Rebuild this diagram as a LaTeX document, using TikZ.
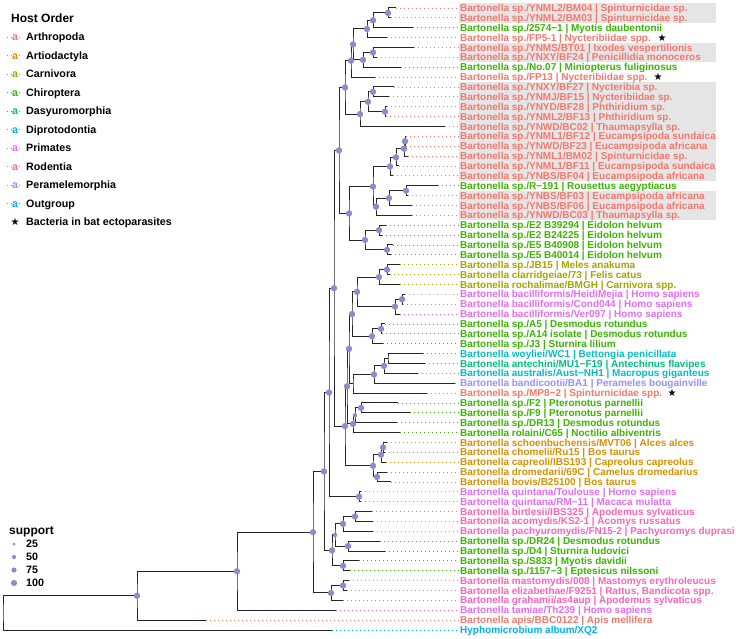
\documentclass[tikz,border=0pt]{standalone}
\usepackage{fontspec}
\setmainfont{Liberation Sans}
\newfontfamily\symf{DejaVu Sans}
\usetikzlibrary{calc}
\pgfdeclarelayer{bg}\pgfdeclarelayer{fg}\pgfsetlayers{bg,main,fg}
\definecolor{arth}{HTML}{F8766D}
\definecolor{arti}{HTML}{D89000}
\definecolor{carn}{HTML}{A3A500}
\definecolor{chir}{HTML}{39B600}
\definecolor{dasy}{HTML}{00BF7D}
\definecolor{dipr}{HTML}{00BFC4}
\definecolor{outg}{HTML}{00B0F6}
\definecolor{pera}{HTML}{9590FF}
\definecolor{prim}{HTML}{E76BF3}
\definecolor{rode}{HTML}{FF62BC}
\definecolor{supc}{RGB}{140,140,205}
\definecolor{hl}{HTML}{E5E5E5}
\tikzset{
  br/.style={line width=1pt, draw=black!85},
  lead/.style={line width=0.8pt, dash pattern=on 0.8pt off 3.2pt},
  lab/.style={anchor=west, inner sep=1pt, font=\fontsize{10}{10}\selectfont\bfseries, text height=7.2pt, text depth=0pt},
  leg/.style={anchor=west, inner sep=0pt, font=\fontsize{10.7}{11}\selectfont\bfseries, text height=7.7pt, text depth=0pt},
  legtitle/.style={anchor=west, inner sep=0pt, font=\fontsize{12}{12}\selectfont\bfseries, text height=8.6pt, text depth=0pt},
  starn/.style={inner sep=0pt, font=\symf\fontsize{10}{10}\selectfont},
}
\newcommand\tip[5]{%
  \coordinate (#1) at (#3,{8+(#2-1)*9.873});
  \node[lab,text=#4] (#1l) at (459,{8+(#2-1)*9.873}) {#5};
  \draw[lead,#4] (#1) -- (#1l.west);
}
\newcommand\inode[5]{%
  \path let \p1=(#3), \p2=(#4) in coordinate (#1) at (#2pt,{(\y1+\y2)/2});
  \draw[br] (#3) -| (#1) |- (#4);
  \ifdim#5pt>0pt \begin{pgfonlayer}{fg}\fill[supc] (#1) circle (#5pt);\end{pgfonlayer}\fi
}
\newcommand\hlbox[2]{%
  \begin{pgfonlayer}{bg}\fill[hl] (459,{8+(#1-1)*9.873-4.93}) rectangle (716,{8+(#2-1)*9.873+4.93});\end{pgfonlayer}
}
\begin{document}
\begin{tikzpicture}[x=1pt,y=-1pt]
\useasboundingbox (0,0) rectangle (736,639);
\begin{pgfonlayer}{bg}\fill[white] (0,0) rectangle (736,639);\end{pgfonlayer}
\hlbox{1}{2}\hlbox{5}{6}\hlbox{9}{18}\hlbox{20}{22}
% tips
\tip{t1}{1}{396}{arth}{Bartonella sp./YNML2/BM04 | Spinturnicidae sp.}
\tip{t2}{2}{391}{arth}{Bartonella sp./YNML2/BM03 | Spinturnicidae sp.}
\tip{t3}{3}{413}{chir}{Bartonella sp./2574−1 | Myotis daubentonii}
\tip{t4}{4}{387}{arth}{Bartonella sp./FP5-1 | Nycteribiidae spp.}
\tip{t5}{5}{414}{arth}{Bartonella sp./YNMS/BT01 | Ixodes vespertilionis}
\tip{t6}{6}{377}{arth}{Bartonella sp./YNXY/BF24 | Penicillidia monoceros}
\tip{t7}{7}{401}{chir}{Bartonella sp./No.07 | Miniopterus fuliginosus}
\tip{t8}{8}{375}{arth}{Bartonella sp./FP13 | Nycteribiidae spp.}
\tip{t9}{9}{394}{arth}{Bartonella sp./YNXY/BF27 | Nycteribia sp.}
\tip{t10}{10}{389}{arth}{Bartonella sp./YNMJ/BF15 | Nycteribiidae sp.}
\tip{t11}{11}{387}{arth}{Bartonella sp./YNYD/BF28 | Phthiridium sp.}
\tip{t12}{12}{386}{arth}{Bartonella sp./YNML2/BF13 | Phthiridium sp.}
\tip{t13}{13}{445}{arth}{Bartonella sp./YNWD/BC02 | Thaumapsylla sp.}
\tip{t14}{14}{406}{arth}{Bartonella sp./YNML1/BF12 | Eucampsipoda sundaica}
\tip{t15}{15}{406}{arth}{Bartonella sp./YNWD/BF23 | Eucampsipoda africana}
\tip{t16}{16}{408}{arth}{Bartonella sp./YNML1/BM02 | Spinturnicidae sp.}
\tip{t17}{17}{399}{arth}{Bartonella sp./YNML1/BF11 | Eucampsipoda sundaica}
\tip{t18}{18}{393}{arth}{Bartonella sp./YNBS/BF04 | Eucampsipoda africana}
\tip{t19}{19}{438}{chir}{Bartonella sp./R−191 | Rousettus aegyptiacus}
\tip{t20}{20}{408}{arth}{Bartonella sp./YNBS/BF03 | Eucampsipoda africana}
\tip{t21}{21}{412}{arth}{Bartonella sp./YNBS/BF06 | Eucampsipoda africana}
\tip{t22}{22}{412}{arth}{Bartonella sp./YNWD/BC03 | Thaumapsylla sp.}
\tip{t23}{23}{386}{chir}{Bartonella sp./E2 B39294 | Eidolon helvum}
\tip{t24}{24}{382}{chir}{Bartonella sp./E2 B24225 | Eidolon helvum}
\tip{t25}{25}{393}{chir}{Bartonella sp./E5 B40908 | Eidolon helvum}
\tip{t26}{26}{391}{chir}{Bartonella sp./E5 B40014 | Eidolon helvum}
\tip{t27}{27}{400}{carn}{Bartonella sp./JB15 | Meles anakuma}
\tip{t28}{28}{390}{carn}{Bartonella clarridgeiae/73 | Felis catus}
\tip{t29}{29}{400}{carn}{Bartonella rochalimae/BMGH | Carnivora spp.}
\tip{t30}{30}{405}{prim}{Bartonella bacilliformis/HeidiMejia | Homo sapiens}
\tip{t31}{31}{403}{prim}{Bartonella bacilliformis/Cond044 | Homo sapiens}
\tip{t32}{32}{400}{prim}{Bartonella bacilliformis/Ver097 | Homo sapiens}
\tip{t33}{33}{385}{chir}{Bartonella sp./A5 | Desmodus rotundus}
\tip{t34}{34}{382}{chir}{Bartonella sp./A14 isolate | Desmodus rotundus}
\tip{t35}{35}{383}{chir}{Bartonella sp./J3 | Sturnira lilium}
\tip{t36}{36}{423}{dipr}{Bartonella woyliei/WC1 | Bettongia penicillata}
\tip{t37}{37}{425}{dasy}{Bartonella antechini/MU1−F19 | Antechinus flavipes}
\tip{t38}{38}{418}{dipr}{Bartonella australis/Aust−NH1 | Macropus giganteus}
\tip{t39}{39}{455}{pera}{Bartonella bandicootii/BA1 | Perameles bougainville}
\tip{t40}{40}{427}{arth}{Bartonella sp./MP8−2 | Spinturnicidae spp.}
\tip{t41}{41}{398}{chir}{Bartonella sp./F2 | Pteronotus parnellii}
\tip{t42}{42}{410}{chir}{Bartonella sp./F9 | Pteronotus parnellii}
\tip{t43}{43}{397}{chir}{Bartonella sp./DR13 | Desmodus rotundus}
\tip{t44}{44}{400}{chir}{Bartonella rolaini/C65 | Noctilio albiventris}
\tip{t45}{45}{387}{arti}{Bartonella schoenbuchensis/MVT06 | Alces alces}
\tip{t46}{46}{385}{arti}{Bartonella chomelii/Ru15 | Bos taurus}
\tip{t47}{47}{386}{arti}{Bartonella capreoli/IBS193 | Capreolus capreolus}
\tip{t48}{48}{387}{arti}{Bartonella dromedarii/69C | Camelus dromedarius}
\tip{t49}{49}{391}{arti}{Bartonella bovis/B25100 | Bos taurus}
\tip{t50}{50}{361}{prim}{Bartonella quintana/Toulouse | Homo sapiens}
\tip{t51}{51}{361}{prim}{Bartonella quintana/RM−11 | Macaca mulatta}
\tip{t52}{52}{372}{rode}{Bartonella birtlesii/IBS325 | Apodemus sylvaticus}
\tip{t53}{53}{373}{rode}{Bartonella acomydis/KS2-1 | Acomys russatus}
\tip{t54}{54}{373}{rode}{Bartonella pachyuromydis/FN15-2 | Pachyuromys duprasi}
\tip{t55}{55}{380}{chir}{Bartonella sp./DR24 | Desmodus rotundus}
\tip{t56}{56}{385}{chir}{Bartonella sp./D4 | Sturnira ludovici}
\tip{t57}{57}{359}{chir}{Bartonella sp./S833 | Myotis davidii}
\tip{t58}{58}{350}{chir}{Bartonella sp./1157−3 | Eptesicus nilssoni}
\tip{t59}{59}{349}{rode}{Bartonella mastomydis/008 | Mastomys erythroleucus}
\tip{t60}{60}{347}{rode}{Bartonella elizabethae/F9251 | Rattus, Bandicota spp.}
\tip{t61}{61}{343}{rode}{Bartonella grahamii/as4aup | Apodemus sylvaticus}
\tip{t62}{62}{336}{prim}{Bartonella tamiae/Th239 | Homo sapiens}
\tip{t63}{63}{206}{arth}{Bartonella apis/BBC0122 | Apis mellifera}
\tip{t64}{64}{332}{outg}{Hyphomicrobium album/XQ2}
% internal nodes
\inode{P1}{388}{t1}{t2}{3.2}
\inode{P2}{373}{P1}{t3}{3.2}
\inode{P3}{367}{P2}{t4}{3.2}
\inode{P4}{373}{t5}{t6}{3.2}
\inode{P5}{363}{P4}{t7}{3.2}
\inode{P6}{353}{P3}{P5}{3.2}
\inode{P7}{351}{P6}{t8}{3.2}
\inode{P8}{373}{t9}{t10}{3.2}
\inode{P9}{385}{t11}{t12}{3.2}
\inode{P10}{368}{P8}{P9}{3.2}
\inode{P11}{360}{P10}{t13}{3.2}
\inode{P12}{345}{P7}{P11}{3.2}
\inode{A}{405}{t14}{t15}{3.2}
\inode{B}{404}{A}{t16}{3.2}
\inode{C}{396}{B}{t17}{3.2}
\inode{D}{390}{C}{t18}{3.2}
\inode{E}{406}{t19}{t20}{3.2}
\inode{F}{389}{E}{t21}{3.2}
\inode{G}{376}{F}{t22}{3.2}
\inode{H}{373}{D}{G}{3.2}
\inode{I}{379}{t23}{t24}{3.2}
\inode{J}{387}{t25}{t26}{3.2}
\inode{K}{365}{I}{J}{3.2}
\inode{L}{349}{H}{K}{3.2}
\inode{M}{339}{P12}{L}{3.2}
\inode{N1}{387}{t27}{t28}{3.2}
\inode{N2}{379}{N1}{t29}{3.2}
\inode{B1}{402}{t30}{t31}{3.2}
\inode{B2}{395}{B1}{t32}{3.2}
\inode{N3}{357}{N2}{B2}{3.2}
\inode{D1}{381}{t33}{t34}{3.2}
\inode{D2}{372}{D1}{t35}{3.2}
\inode{N4}{352}{N3}{D2}{3.2}
\inode{M1}{388}{t36}{t37}{0}
\inode{M2}{384}{M1}{t38}{3.2}
\inode{M3}{374}{M2}{t39}{3.2}
\inode{M4}{353}{M3}{t40}{0}
\inode{Y}{349}{N4}{M4}{3.2}
\inode{Q1}{361}{t41}{t42}{3.2}
\inode{Q2}{355}{Q1}{t43}{2.2}
\inode{Q3}{353}{Q2}{t44}{3.2}
\inode{X}{347}{Y}{Q3}{3.2}
\inode{R1}{383}{t45}{t46}{3.2}
\inode{R2}{381}{R1}{t47}{3.2}
\inode{R3}{377}{t48}{t49}{3.2}
\inode{R4}{373}{R2}{R3}{3.2}
\inode{S}{345}{X}{R4}{3.2}
\inode{T}{334}{M}{S}{3.2}
\inode{U1}{359}{t50}{t51}{3.2}
\inode{U}{329}{T}{U1}{3.2}
\inode{V1}{355}{t52}{t53}{3.2}
\inode{V2}{343}{V1}{t54}{3.2}
\inode{V3}{348}{t55}{t56}{3.2}
\inode{V4}{335}{V2}{V3}{2.2}
\inode{V5}{343}{t57}{t58}{3.2}
\inode{V6}{332}{V4}{V5}{3.2}
\inode{W}{324}{U}{V6}{3.2}
\inode{R5}{343}{t59}{t60}{3.2}
\inode{R6}{331}{R5}{t61}{3.2}
\inode{W2}{313}{W}{R6}{3.2}
\inode{W3}{237}{W2}{t62}{3.2}
\inode{W4}{137}{W3}{t63}{3.2}
\inode{root}{3}{W4}{t64}{0}
% stars
\node[starn] (s4) at (662,{8+3*9.873}) {★};
\node[starn] (s8) at (658,{8+7*9.873}) {★};
\node[starn] (s40) at (672,{8+39*9.873}) {★};
% host legend
\node[legtitle] (htitle) at (11,18) {Host Order};
\foreach \c/\t [count=\k] in {arth/Arthropoda,arti/Artiodactyla,carn/Carnivora,chir/Chiroptera,dasy/Dasyuromorphia,dipr/Diprotodontia,prim/Primates,rode/Rodentia,pera/Peramelemorphia,outg/Outgroup}{
  \pgfmathsetmacro\ly{37+(\k-1)*18.5}
  \draw[lead,\c] (7,\ly) -- (23,\ly);
  \node[leg,anchor=center,text=\c,fill=white,inner sep=0.3pt] (key\k) at (15,\ly) {a};
  \node[leg] (legt\k) at (26,\ly) {\t};
}
\node[starn] (key11) at (15,222) {★};
\node[leg] (legt11) at (26,222) {Bacteria in bat ectoparasites};
% support legend
\node[legtitle] (stitle) at (9,530) {support};
\fill[supc] (14,544) circle (1.5pt);
\fill[supc] (14,557) circle (2.1pt);
\fill[supc] (14,570) circle (2.6pt);
\fill[supc] (14,583) circle (3.1pt);
\node[leg] (s25) at (26,544) {25};
\node[leg] (s50) at (26,557) {50};
\node[leg] (s75) at (26,570) {75};
\node[leg] (s100) at (26,583) {100};
\end{tikzpicture}
\end{document}
